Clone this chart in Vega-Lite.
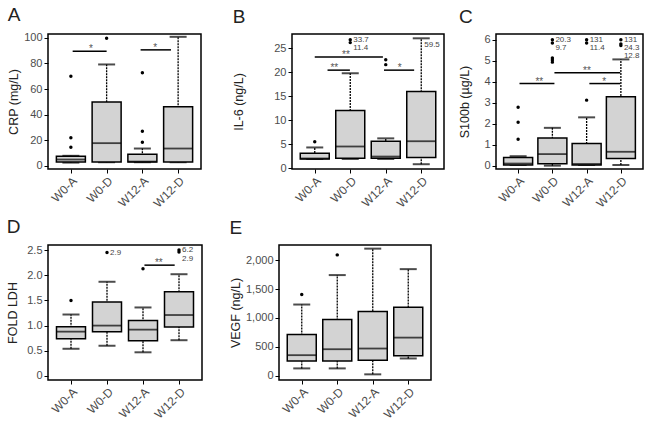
{
  "$schema": "https://vega.github.io/schema/vega-lite/v6.json",
  "background": "white",
  "padding": {"left": 5, "top": 5, "right": 5, "bottom": 5},
  "datasets": {
    "box": [
      {"p": "A", "g": 1, "lo": 2.5, "q1": 3, "med": 4.9, "q3": 7.5, "hi": 7.8},
      {"p": "A", "g": 2, "lo": 2.8, "q1": 3, "med": 17.7, "q3": 49.9, "hi": 79.2},
      {"p": "A", "g": 3, "lo": 2.8, "q1": 3, "med": 3.3, "q3": 9.1, "hi": 13.5},
      {"p": "A", "g": 4, "lo": 2.8, "q1": 3, "med": 13.5, "q3": 46.2, "hi": 100.8},
      {"p": "B", "g": 1, "lo": 1.9, "q1": 1.9, "med": 2.0, "q3": 3.1, "hi": 4.3},
      {"p": "B", "g": 2, "lo": 1.9, "q1": 2.07, "med": 4.5, "q3": 12.0, "hi": 19.8},
      {"p": "B", "g": 3, "lo": 1.9, "q1": 2.07, "med": 2.4, "q3": 5.6, "hi": 6.2},
      {"p": "B", "g": 4, "lo": 0.8, "q1": 2.2, "med": 5.6, "q3": 16.0, "hi": 27.1},
      {"p": "C", "g": 1, "lo": 0.03, "q1": 0.03, "med": 0.1, "q3": 0.39, "hi": 0.45},
      {"p": "C", "g": 2, "lo": 0.0, "q1": 0.09, "med": 0.55, "q3": 1.32, "hi": 1.8},
      {"p": "C", "g": 3, "lo": 0.03, "q1": 0.03, "med": 0.08, "q3": 1.05, "hi": 2.3},
      {"p": "C", "g": 4, "lo": 0.03, "q1": 0.34, "med": 0.66, "q3": 3.28, "hi": 5.06},
      {"p": "D", "g": 1, "lo": 0.54, "q1": 0.74, "med": 0.88, "q3": 0.975, "hi": 1.22},
      {"p": "D", "g": 2, "lo": 0.6, "q1": 0.88, "med": 1.0, "q3": 1.47, "hi": 1.87},
      {"p": "D", "g": 3, "lo": 0.47, "q1": 0.7, "med": 0.92, "q3": 1.1, "hi": 1.36},
      {"p": "D", "g": 4, "lo": 0.71, "q1": 0.97, "med": 1.21, "q3": 1.67, "hi": 2.02},
      {"p": "E", "g": 1, "lo": 126, "q1": 252, "med": 355, "q3": 711, "hi": 1232},
      {"p": "E", "g": 2, "lo": 126, "q1": 252, "med": 458, "q3": 974, "hi": 1742},
      {"p": "E", "g": 3, "lo": 23, "q1": 269, "med": 470, "q3": 1112, "hi": 2200},
      {"p": "E", "g": 4, "lo": 298, "q1": 344, "med": 659, "q3": 1186, "hi": 1845}
    ],
    "out": [
      {"p": "A", "g": 1, "v": 70}, {"p": "A", "g": 1, "v": 22}, {"p": "A", "g": 1, "v": 14.5},
      {"p": "A", "g": 2, "v": 99.7},
      {"p": "A", "g": 3, "v": 72.7}, {"p": "A", "g": 3, "v": 27}, {"p": "A", "g": 3, "v": 18.4},
      {"p": "B", "g": 1, "v": 5.5},
      {"p": "B", "g": 2, "v": 26.8}, {"p": "B", "g": 2, "v": 26.2},
      {"p": "B", "g": 3, "v": 22.6}, {"p": "B", "g": 3, "v": 21.6},
      {"p": "C", "g": 1, "v": 2.78}, {"p": "C", "g": 1, "v": 2.07}, {"p": "C", "g": 1, "v": 1.26},
      {"p": "C", "g": 2, "v": 5.13}, {"p": "C", "g": 2, "v": 5.03}, {"p": "C", "g": 2, "v": 4.93}, {"p": "C", "g": 2, "v": 6.0}, {"p": "C", "g": 2, "v": 5.84},
      {"p": "C", "g": 3, "v": 3.12}, {"p": "C", "g": 3, "v": 6.0}, {"p": "C", "g": 3, "v": 5.84},
      {"p": "C", "g": 4, "v": 6.0}, {"p": "C", "g": 4, "v": 5.8}, {"p": "C", "g": 4, "v": 5.72},
      {"p": "D", "g": 1, "v": 1.5}, {"p": "D", "g": 2, "v": 2.45}, {"p": "D", "g": 3, "v": 2.13},
      {"p": "D", "g": 4, "v": 2.5}, {"p": "D", "g": 4, "v": 2.46},
      {"p": "E", "g": 1, "v": 1404}, {"p": "E", "g": 2, "v": 2092}
    ],
    "sig": [
      {"p": "A", "x1": 1.05, "x2": 2.0, "sx": 1.56, "y": 89.6, "s": "*"},
      {"p": "A", "x1": 2.95, "x2": 3.8, "sx": 3.36, "y": 90.6, "s": "*"},
      {"p": "B", "x1": 1.36, "x2": 1.99, "sx": 1.55, "y": 20.45, "s": "**"},
      {"p": "B", "x1": 1.0, "x2": 2.92, "sx": 1.88, "y": 23.2, "s": "**"},
      {"p": "B", "x1": 2.95, "x2": 3.8, "sx": 3.39, "y": 20.45, "s": "*"},
      {"p": "C", "x1": 1.04, "x2": 2.06, "sx": 1.62, "y": 3.91, "s": "**"},
      {"p": "C", "x1": 2.06, "x2": 3.98, "sx": 3.01, "y": 4.43, "s": "**"},
      {"p": "C", "x1": 3.08, "x2": 3.98, "sx": 3.51, "y": 3.91, "s": "*"},
      {"p": "D", "x1": 3.04, "x2": 3.88, "sx": 3.44, "y": 2.2, "s": "**"}
    ],
    "ann": [
      {"p": "B", "g": 2, "y": 26.7, "t": "33.7"},
      {"p": "B", "g": 2, "y": 25.0, "t": "11.4"},
      {"p": "B", "g": 4, "y": 25.6, "t": "59.5"},
      {"p": "C", "g": 2, "y": 5.98, "t": "20.3"},
      {"p": "C", "g": 2, "y": 5.6, "t": "9.7"},
      {"p": "C", "g": 3, "y": 5.98, "t": "131"},
      {"p": "C", "g": 3, "y": 5.6, "t": "11.4"},
      {"p": "C", "g": 4, "y": 5.98, "t": "131"},
      {"p": "C", "g": 4, "y": 5.6, "t": "24.3"},
      {"p": "C", "g": 4, "y": 5.21, "t": "12.8"},
      {"p": "D", "g": 2, "y": 2.44, "t": "2.9"},
      {"p": "D", "g": 4, "y": 2.5, "t": "6.2"},
      {"p": "D", "g": 4, "y": 2.33, "t": "2.9"}
    ]
  },
  "spacing": 7,
  "vconcat": [
    {
      "spacing": 30,
      "hconcat": [
        {
          "width": 153, "height": 135,
          "title": {"text": "A"},
          "layer": [
            {"data": {"name": "box"}, "transform": [{"filter": "datum.p==='A'"}],
             "mark": {"type": "rule", "strokeDash": [2, 1], "strokeWidth": 1.3, "color": "#000"},
             "encoding": {
               "x": {"field": "g", "type": "quantitative", "title": null, "scale": {"domain": [0.5, 4.5], "nice": false, "zero": false}, "axis": {"values": [1, 2, 3, 4], "labelExpr": "['','W0-A','W0-D','W12-A','W12-D'][datum.value]"}},
               "y": {"field": "lo", "type": "quantitative", "title": "CRP (mg/L)", "scale": {"domain": [-2.5, 103], "nice": false, "zero": false}, "axis": {"values": [0, 20, 40, 60, 80, 100], "titlePadding": 3}},
               "y2": {"field": "hi"}}},
            {"data": {"name": "box"}, "transform": [{"filter": "datum.p==='A'"}],
             "mark": {"type": "tick", "orient": "horizontal", "size": 17, "thickness": 2, "color": "#000"},
             "encoding": {
               "x": {"field": "g", "type": "quantitative", "title": null, "scale": {"domain": [0.5, 4.5], "nice": false, "zero": false}, "axis": {"values": [1, 2, 3, 4], "labelExpr": "['','W0-A','W0-D','W12-A','W12-D'][datum.value]"}},
               "y": {"field": "hi", "type": "quantitative", "title": "CRP (mg/L)", "scale": {"domain": [-2.5, 103], "nice": false, "zero": false}, "axis": {"values": [0, 20, 40, 60, 80, 100], "titlePadding": 3}}}},
            {"data": {"name": "box"}, "transform": [{"filter": "datum.p==='A'"}],
             "mark": {"type": "tick", "orient": "horizontal", "size": 17, "thickness": 2, "color": "#000"},
             "encoding": {
               "x": {"field": "g", "type": "quantitative", "title": null, "scale": {"domain": [0.5, 4.5], "nice": false, "zero": false}, "axis": {"values": [1, 2, 3, 4], "labelExpr": "['','W0-A','W0-D','W12-A','W12-D'][datum.value]"}},
               "y": {"field": "lo", "type": "quantitative", "title": "CRP (mg/L)", "scale": {"domain": [-2.5, 103], "nice": false, "zero": false}, "axis": {"values": [0, 20, 40, 60, 80, 100], "titlePadding": 3}}}},
            {"data": {"name": "box"}, "transform": [{"filter": "datum.p==='A'"}],
             "mark": {"type": "bar", "orient": "vertical", "size": 29, "fill": "#d3d3d3", "stroke": "#000", "strokeWidth": 1.5},
             "encoding": {
               "x": {"field": "g", "type": "quantitative", "title": null, "scale": {"domain": [0.5, 4.5], "nice": false, "zero": false}, "axis": {"values": [1, 2, 3, 4], "labelExpr": "['','W0-A','W0-D','W12-A','W12-D'][datum.value]"}},
               "y": {"field": "q1", "type": "quantitative", "title": "CRP (mg/L)", "scale": {"domain": [-2.5, 103], "nice": false, "zero": false}, "axis": {"values": [0, 20, 40, 60, 80, 100], "titlePadding": 3}},
               "y2": {"field": "q3"}}},
            {"data": {"name": "box"}, "transform": [{"filter": "datum.p==='A'"}],
             "mark": {"type": "tick", "orient": "horizontal", "size": 29, "thickness": 1.8, "color": "#000"},
             "encoding": {
               "x": {"field": "g", "type": "quantitative", "title": null, "scale": {"domain": [0.5, 4.5], "nice": false, "zero": false}, "axis": {"values": [1, 2, 3, 4], "labelExpr": "['','W0-A','W0-D','W12-A','W12-D'][datum.value]"}},
               "y": {"field": "med", "type": "quantitative", "title": "CRP (mg/L)", "scale": {"domain": [-2.5, 103], "nice": false, "zero": false}, "axis": {"values": [0, 20, 40, 60, 80, 100], "titlePadding": 3}}}},
            {"data": {"name": "out"}, "transform": [{"filter": "datum.p==='A'"}],
             "mark": {"type": "circle", "size": 12, "color": "#000", "opacity": 1},
             "encoding": {
               "x": {"field": "g", "type": "quantitative", "title": null, "scale": {"domain": [0.5, 4.5], "nice": false, "zero": false}, "axis": {"values": [1, 2, 3, 4], "labelExpr": "['','W0-A','W0-D','W12-A','W12-D'][datum.value]"}},
               "y": {"field": "v", "type": "quantitative", "title": "CRP (mg/L)", "scale": {"domain": [-2.5, 103], "nice": false, "zero": false}, "axis": {"values": [0, 20, 40, 60, 80, 100], "titlePadding": 3}}}},
            {"data": {"name": "sig"}, "transform": [{"filter": "datum.p==='A'"}],
             "mark": {"type": "rule", "strokeWidth": 1.5, "color": "#000"},
             "encoding": {
               "x": {"field": "x1", "type": "quantitative", "title": null, "scale": {"domain": [0.5, 4.5], "nice": false, "zero": false}, "axis": {"values": [1, 2, 3, 4], "labelExpr": "['','W0-A','W0-D','W12-A','W12-D'][datum.value]"}},
               "x2": {"field": "x2"},
               "y": {"field": "y", "type": "quantitative", "title": "CRP (mg/L)", "scale": {"domain": [-2.5, 103], "nice": false, "zero": false}, "axis": {"values": [0, 20, 40, 60, 80, 100], "titlePadding": 3}}}},
            {"data": {"name": "sig"}, "transform": [{"filter": "datum.p==='A'"}],
             "mark": {"type": "text", "fontSize": 10, "color": "#555", "baseline": "alphabetic", "dy": 1},
             "encoding": {
               "x": {"field": "sx", "type": "quantitative", "title": null, "scale": {"domain": [0.5, 4.5], "nice": false, "zero": false}, "axis": {"values": [1, 2, 3, 4], "labelExpr": "['','W0-A','W0-D','W12-A','W12-D'][datum.value]"}},
               "y": {"field": "y", "type": "quantitative", "title": "CRP (mg/L)", "scale": {"domain": [-2.5, 103], "nice": false, "zero": false}, "axis": {"values": [0, 20, 40, 60, 80, 100], "titlePadding": 3}},
               "text": {"field": "s"}}}
          ]
        },
        {
          "spacing": 13,
          "hconcat": [
            {
              "width": 152, "height": 135,
              "title": {"text": "B"},
              "layer": [
                {"data": {"name": "box"}, "transform": [{"filter": "datum.p==='B'"}],
                 "mark": {"type": "rule", "strokeDash": [2, 1], "strokeWidth": 1.3, "color": "#000"},
                 "encoding": {
                   "x": {"field": "g", "type": "quantitative", "title": null, "scale": {"domain": [0.5, 4.5], "nice": false, "zero": false}, "axis": {"values": [1, 2, 3, 4], "labelExpr": "['','W0-A','W0-D','W12-A','W12-D'][datum.value]"}},
                   "y": {"field": "lo", "type": "quantitative", "title": "IL-6 (ng/L)", "scale": {"domain": [-0.2, 28], "nice": false, "zero": false}, "axis": {"values": [0, 5, 10, 15, 20, 25], "titlePadding": 28}},
                   "y2": {"field": "hi"}}},
                {"data": {"name": "box"}, "transform": [{"filter": "datum.p==='B'"}],
                 "mark": {"type": "tick", "orient": "horizontal", "size": 17, "thickness": 2, "color": "#000"},
                 "encoding": {
                   "x": {"field": "g", "type": "quantitative", "title": null, "scale": {"domain": [0.5, 4.5], "nice": false, "zero": false}, "axis": {"values": [1, 2, 3, 4], "labelExpr": "['','W0-A','W0-D','W12-A','W12-D'][datum.value]"}},
                   "y": {"field": "hi", "type": "quantitative", "title": "IL-6 (ng/L)", "scale": {"domain": [-0.2, 28], "nice": false, "zero": false}, "axis": {"values": [0, 5, 10, 15, 20, 25], "titlePadding": 28}}}},
                {"data": {"name": "box"}, "transform": [{"filter": "datum.p==='B'"}],
                 "mark": {"type": "tick", "orient": "horizontal", "size": 17, "thickness": 2, "color": "#000"},
                 "encoding": {
                   "x": {"field": "g", "type": "quantitative", "title": null, "scale": {"domain": [0.5, 4.5], "nice": false, "zero": false}, "axis": {"values": [1, 2, 3, 4], "labelExpr": "['','W0-A','W0-D','W12-A','W12-D'][datum.value]"}},
                   "y": {"field": "lo", "type": "quantitative", "title": "IL-6 (ng/L)", "scale": {"domain": [-0.2, 28], "nice": false, "zero": false}, "axis": {"values": [0, 5, 10, 15, 20, 25], "titlePadding": 28}}}},
                {"data": {"name": "box"}, "transform": [{"filter": "datum.p==='B'"}],
                 "mark": {"type": "bar", "orient": "vertical", "size": 29, "fill": "#d3d3d3", "stroke": "#000", "strokeWidth": 1.5},
                 "encoding": {
                   "x": {"field": "g", "type": "quantitative", "title": null, "scale": {"domain": [0.5, 4.5], "nice": false, "zero": false}, "axis": {"values": [1, 2, 3, 4], "labelExpr": "['','W0-A','W0-D','W12-A','W12-D'][datum.value]"}},
                   "y": {"field": "q1", "type": "quantitative", "title": "IL-6 (ng/L)", "scale": {"domain": [-0.2, 28], "nice": false, "zero": false}, "axis": {"values": [0, 5, 10, 15, 20, 25], "titlePadding": 28}},
                   "y2": {"field": "q3"}}},
                {"data": {"name": "box"}, "transform": [{"filter": "datum.p==='B'"}],
                 "mark": {"type": "tick", "orient": "horizontal", "size": 29, "thickness": 1.8, "color": "#000"},
                 "encoding": {
                   "x": {"field": "g", "type": "quantitative", "title": null, "scale": {"domain": [0.5, 4.5], "nice": false, "zero": false}, "axis": {"values": [1, 2, 3, 4], "labelExpr": "['','W0-A','W0-D','W12-A','W12-D'][datum.value]"}},
                   "y": {"field": "med", "type": "quantitative", "title": "IL-6 (ng/L)", "scale": {"domain": [-0.2, 28], "nice": false, "zero": false}, "axis": {"values": [0, 5, 10, 15, 20, 25], "titlePadding": 28}}}},
                {"data": {"name": "out"}, "transform": [{"filter": "datum.p==='B'"}],
                 "mark": {"type": "circle", "size": 12, "color": "#000", "opacity": 1},
                 "encoding": {
                   "x": {"field": "g", "type": "quantitative", "title": null, "scale": {"domain": [0.5, 4.5], "nice": false, "zero": false}, "axis": {"values": [1, 2, 3, 4], "labelExpr": "['','W0-A','W0-D','W12-A','W12-D'][datum.value]"}},
                   "y": {"field": "v", "type": "quantitative", "title": "IL-6 (ng/L)", "scale": {"domain": [-0.2, 28], "nice": false, "zero": false}, "axis": {"values": [0, 5, 10, 15, 20, 25], "titlePadding": 28}}}},
                {"data": {"name": "sig"}, "transform": [{"filter": "datum.p==='B'"}],
                 "mark": {"type": "rule", "strokeWidth": 1.5, "color": "#000"},
                 "encoding": {
                   "x": {"field": "x1", "type": "quantitative", "title": null, "scale": {"domain": [0.5, 4.5], "nice": false, "zero": false}, "axis": {"values": [1, 2, 3, 4], "labelExpr": "['','W0-A','W0-D','W12-A','W12-D'][datum.value]"}},
                   "x2": {"field": "x2"},
                   "y": {"field": "y", "type": "quantitative", "title": "IL-6 (ng/L)", "scale": {"domain": [-0.2, 28], "nice": false, "zero": false}, "axis": {"values": [0, 5, 10, 15, 20, 25], "titlePadding": 28}}}},
                {"data": {"name": "sig"}, "transform": [{"filter": "datum.p==='B'"}],
                 "mark": {"type": "text", "fontSize": 10, "color": "#555", "baseline": "alphabetic", "dy": 1},
                 "encoding": {
                   "x": {"field": "sx", "type": "quantitative", "title": null, "scale": {"domain": [0.5, 4.5], "nice": false, "zero": false}, "axis": {"values": [1, 2, 3, 4], "labelExpr": "['','W0-A','W0-D','W12-A','W12-D'][datum.value]"}},
                   "y": {"field": "y", "type": "quantitative", "title": "IL-6 (ng/L)", "scale": {"domain": [-0.2, 28], "nice": false, "zero": false}, "axis": {"values": [0, 5, 10, 15, 20, 25], "titlePadding": 28}},
                   "text": {"field": "s"}}},
                {"data": {"name": "ann"}, "transform": [{"filter": "datum.p==='B'"}],
                 "mark": {"type": "text", "fontSize": 8, "color": "#444", "align": "left", "baseline": "middle", "dx": 3},
                 "encoding": {
                   "x": {"field": "g", "type": "quantitative", "title": null, "scale": {"domain": [0.5, 4.5], "nice": false, "zero": false}, "axis": {"values": [1, 2, 3, 4], "labelExpr": "['','W0-A','W0-D','W12-A','W12-D'][datum.value]"}},
                   "y": {"field": "y", "type": "quantitative", "title": "IL-6 (ng/L)", "scale": {"domain": [-0.2, 28], "nice": false, "zero": false}, "axis": {"values": [0, 5, 10, 15, 20, 25], "titlePadding": 28}},
                   "text": {"field": "t"}}}
              ]
            },
            {
              "width": 147, "height": 135,
              "title": {"text": "C"},
              "layer": [
                {"data": {"name": "box"}, "transform": [{"filter": "datum.p==='C'"}],
                 "mark": {"type": "rule", "strokeDash": [2, 1], "strokeWidth": 1.3, "color": "#000"},
                 "encoding": {
                   "x": {"field": "g", "type": "quantitative", "title": null, "scale": {"domain": [0.5, 4.5], "nice": false, "zero": false}, "axis": {"values": [1, 2, 3, 4], "labelExpr": "['','W0-A','W0-D','W12-A','W12-D'][datum.value]"}},
                   "y": {"field": "lo", "type": "quantitative", "title": "S100b (µg/L)", "scale": {"domain": [-0.16, 6.27], "nice": false, "zero": false}, "axis": {"values": [0, 1, 2, 3, 4, 5, 6], "titlePadding": 12}},
                   "y2": {"field": "hi"}}},
                {"data": {"name": "box"}, "transform": [{"filter": "datum.p==='C'"}],
                 "mark": {"type": "tick", "orient": "horizontal", "size": 17, "thickness": 2, "color": "#000"},
                 "encoding": {
                   "x": {"field": "g", "type": "quantitative", "title": null, "scale": {"domain": [0.5, 4.5], "nice": false, "zero": false}, "axis": {"values": [1, 2, 3, 4], "labelExpr": "['','W0-A','W0-D','W12-A','W12-D'][datum.value]"}},
                   "y": {"field": "hi", "type": "quantitative", "title": "S100b (µg/L)", "scale": {"domain": [-0.16, 6.27], "nice": false, "zero": false}, "axis": {"values": [0, 1, 2, 3, 4, 5, 6], "titlePadding": 12}}}},
                {"data": {"name": "box"}, "transform": [{"filter": "datum.p==='C'"}],
                 "mark": {"type": "tick", "orient": "horizontal", "size": 17, "thickness": 2, "color": "#000"},
                 "encoding": {
                   "x": {"field": "g", "type": "quantitative", "title": null, "scale": {"domain": [0.5, 4.5], "nice": false, "zero": false}, "axis": {"values": [1, 2, 3, 4], "labelExpr": "['','W0-A','W0-D','W12-A','W12-D'][datum.value]"}},
                   "y": {"field": "lo", "type": "quantitative", "title": "S100b (µg/L)", "scale": {"domain": [-0.16, 6.27], "nice": false, "zero": false}, "axis": {"values": [0, 1, 2, 3, 4, 5, 6], "titlePadding": 12}}}},
                {"data": {"name": "box"}, "transform": [{"filter": "datum.p==='C'"}],
                 "mark": {"type": "bar", "orient": "vertical", "size": 29, "fill": "#d3d3d3", "stroke": "#000", "strokeWidth": 1.5},
                 "encoding": {
                   "x": {"field": "g", "type": "quantitative", "title": null, "scale": {"domain": [0.5, 4.5], "nice": false, "zero": false}, "axis": {"values": [1, 2, 3, 4], "labelExpr": "['','W0-A','W0-D','W12-A','W12-D'][datum.value]"}},
                   "y": {"field": "q1", "type": "quantitative", "title": "S100b (µg/L)", "scale": {"domain": [-0.16, 6.27], "nice": false, "zero": false}, "axis": {"values": [0, 1, 2, 3, 4, 5, 6], "titlePadding": 12}},
                   "y2": {"field": "q3"}}},
                {"data": {"name": "box"}, "transform": [{"filter": "datum.p==='C'"}],
                 "mark": {"type": "tick", "orient": "horizontal", "size": 29, "thickness": 1.8, "color": "#000"},
                 "encoding": {
                   "x": {"field": "g", "type": "quantitative", "title": null, "scale": {"domain": [0.5, 4.5], "nice": false, "zero": false}, "axis": {"values": [1, 2, 3, 4], "labelExpr": "['','W0-A','W0-D','W12-A','W12-D'][datum.value]"}},
                   "y": {"field": "med", "type": "quantitative", "title": "S100b (µg/L)", "scale": {"domain": [-0.16, 6.27], "nice": false, "zero": false}, "axis": {"values": [0, 1, 2, 3, 4, 5, 6], "titlePadding": 12}}}},
                {"data": {"name": "out"}, "transform": [{"filter": "datum.p==='C'"}],
                 "mark": {"type": "circle", "size": 12, "color": "#000", "opacity": 1},
                 "encoding": {
                   "x": {"field": "g", "type": "quantitative", "title": null, "scale": {"domain": [0.5, 4.5], "nice": false, "zero": false}, "axis": {"values": [1, 2, 3, 4], "labelExpr": "['','W0-A','W0-D','W12-A','W12-D'][datum.value]"}},
                   "y": {"field": "v", "type": "quantitative", "title": "S100b (µg/L)", "scale": {"domain": [-0.16, 6.27], "nice": false, "zero": false}, "axis": {"values": [0, 1, 2, 3, 4, 5, 6], "titlePadding": 12}}}},
                {"data": {"name": "sig"}, "transform": [{"filter": "datum.p==='C'"}],
                 "mark": {"type": "rule", "strokeWidth": 1.5, "color": "#000"},
                 "encoding": {
                   "x": {"field": "x1", "type": "quantitative", "title": null, "scale": {"domain": [0.5, 4.5], "nice": false, "zero": false}, "axis": {"values": [1, 2, 3, 4], "labelExpr": "['','W0-A','W0-D','W12-A','W12-D'][datum.value]"}},
                   "x2": {"field": "x2"},
                   "y": {"field": "y", "type": "quantitative", "title": "S100b (µg/L)", "scale": {"domain": [-0.16, 6.27], "nice": false, "zero": false}, "axis": {"values": [0, 1, 2, 3, 4, 5, 6], "titlePadding": 12}}}},
                {"data": {"name": "sig"}, "transform": [{"filter": "datum.p==='C'"}],
                 "mark": {"type": "text", "fontSize": 10, "color": "#555", "baseline": "alphabetic", "dy": 1},
                 "encoding": {
                   "x": {"field": "sx", "type": "quantitative", "title": null, "scale": {"domain": [0.5, 4.5], "nice": false, "zero": false}, "axis": {"values": [1, 2, 3, 4], "labelExpr": "['','W0-A','W0-D','W12-A','W12-D'][datum.value]"}},
                   "y": {"field": "y", "type": "quantitative", "title": "S100b (µg/L)", "scale": {"domain": [-0.16, 6.27], "nice": false, "zero": false}, "axis": {"values": [0, 1, 2, 3, 4, 5, 6], "titlePadding": 12}},
                   "text": {"field": "s"}}},
                {"data": {"name": "ann"}, "transform": [{"filter": "datum.p==='C'"}],
                 "mark": {"type": "text", "fontSize": 8, "color": "#444", "align": "left", "baseline": "middle", "dx": 3},
                 "encoding": {
                   "x": {"field": "g", "type": "quantitative", "title": null, "scale": {"domain": [0.5, 4.5], "nice": false, "zero": false}, "axis": {"values": [1, 2, 3, 4], "labelExpr": "['','W0-A','W0-D','W12-A','W12-D'][datum.value]"}},
                   "y": {"field": "y", "type": "quantitative", "title": "S100b (µg/L)", "scale": {"domain": [-0.16, 6.27], "nice": false, "zero": false}, "axis": {"values": [0, 1, 2, 3, 4, 5, 6], "titlePadding": 12}},
                   "text": {"field": "t"}}}
              ]
            }
          ]
        }
      ]
    },
    {
      "spacing": 25,
      "hconcat": [
        {
          "width": 154, "height": 135,
          "title": {"text": "D"},
          "layer": [
            {"data": {"name": "box"}, "transform": [{"filter": "datum.p==='D'"}],
             "mark": {"type": "rule", "strokeDash": [2, 1], "strokeWidth": 1.3, "color": "#000"},
             "encoding": {
               "x": {"field": "g", "type": "quantitative", "title": null, "scale": {"domain": [0.5, 4.5], "nice": false, "zero": false}, "axis": {"values": [1, 2, 3, 4], "labelExpr": "['','W0-A','W0-D','W12-A','W12-D'][datum.value]"}},
               "y": {"field": "lo", "type": "quantitative", "title": "FOLD LDH", "scale": {"domain": [-0.08, 2.6], "nice": false, "zero": false}, "axis": {"values": [0, 0.5, 1, 1.5, 2, 2.5], "labelExpr": "datum.value === 0 ? '0' : format(datum.value, '.1f')", "titlePadding": 7}},
               "y2": {"field": "hi"}}},
            {"data": {"name": "box"}, "transform": [{"filter": "datum.p==='D'"}],
             "mark": {"type": "tick", "orient": "horizontal", "size": 17, "thickness": 2, "color": "#000"},
             "encoding": {
               "x": {"field": "g", "type": "quantitative", "title": null, "scale": {"domain": [0.5, 4.5], "nice": false, "zero": false}, "axis": {"values": [1, 2, 3, 4], "labelExpr": "['','W0-A','W0-D','W12-A','W12-D'][datum.value]"}},
               "y": {"field": "hi", "type": "quantitative", "title": "FOLD LDH", "scale": {"domain": [-0.08, 2.6], "nice": false, "zero": false}, "axis": {"values": [0, 0.5, 1, 1.5, 2, 2.5], "labelExpr": "datum.value === 0 ? '0' : format(datum.value, '.1f')", "titlePadding": 7}}}},
            {"data": {"name": "box"}, "transform": [{"filter": "datum.p==='D'"}],
             "mark": {"type": "tick", "orient": "horizontal", "size": 17, "thickness": 2, "color": "#000"},
             "encoding": {
               "x": {"field": "g", "type": "quantitative", "title": null, "scale": {"domain": [0.5, 4.5], "nice": false, "zero": false}, "axis": {"values": [1, 2, 3, 4], "labelExpr": "['','W0-A','W0-D','W12-A','W12-D'][datum.value]"}},
               "y": {"field": "lo", "type": "quantitative", "title": "FOLD LDH", "scale": {"domain": [-0.08, 2.6], "nice": false, "zero": false}, "axis": {"values": [0, 0.5, 1, 1.5, 2, 2.5], "labelExpr": "datum.value === 0 ? '0' : format(datum.value, '.1f')", "titlePadding": 7}}}},
            {"data": {"name": "box"}, "transform": [{"filter": "datum.p==='D'"}],
             "mark": {"type": "bar", "orient": "vertical", "size": 29, "fill": "#d3d3d3", "stroke": "#000", "strokeWidth": 1.5},
             "encoding": {
               "x": {"field": "g", "type": "quantitative", "title": null, "scale": {"domain": [0.5, 4.5], "nice": false, "zero": false}, "axis": {"values": [1, 2, 3, 4], "labelExpr": "['','W0-A','W0-D','W12-A','W12-D'][datum.value]"}},
               "y": {"field": "q1", "type": "quantitative", "title": "FOLD LDH", "scale": {"domain": [-0.08, 2.6], "nice": false, "zero": false}, "axis": {"values": [0, 0.5, 1, 1.5, 2, 2.5], "labelExpr": "datum.value === 0 ? '0' : format(datum.value, '.1f')", "titlePadding": 7}},
               "y2": {"field": "q3"}}},
            {"data": {"name": "box"}, "transform": [{"filter": "datum.p==='D'"}],
             "mark": {"type": "tick", "orient": "horizontal", "size": 29, "thickness": 1.8, "color": "#000"},
             "encoding": {
               "x": {"field": "g", "type": "quantitative", "title": null, "scale": {"domain": [0.5, 4.5], "nice": false, "zero": false}, "axis": {"values": [1, 2, 3, 4], "labelExpr": "['','W0-A','W0-D','W12-A','W12-D'][datum.value]"}},
               "y": {"field": "med", "type": "quantitative", "title": "FOLD LDH", "scale": {"domain": [-0.08, 2.6], "nice": false, "zero": false}, "axis": {"values": [0, 0.5, 1, 1.5, 2, 2.5], "labelExpr": "datum.value === 0 ? '0' : format(datum.value, '.1f')", "titlePadding": 7}}}},
            {"data": {"name": "out"}, "transform": [{"filter": "datum.p==='D'"}],
             "mark": {"type": "circle", "size": 12, "color": "#000", "opacity": 1},
             "encoding": {
               "x": {"field": "g", "type": "quantitative", "title": null, "scale": {"domain": [0.5, 4.5], "nice": false, "zero": false}, "axis": {"values": [1, 2, 3, 4], "labelExpr": "['','W0-A','W0-D','W12-A','W12-D'][datum.value]"}},
               "y": {"field": "v", "type": "quantitative", "title": "FOLD LDH", "scale": {"domain": [-0.08, 2.6], "nice": false, "zero": false}, "axis": {"values": [0, 0.5, 1, 1.5, 2, 2.5], "labelExpr": "datum.value === 0 ? '0' : format(datum.value, '.1f')", "titlePadding": 7}}}},
            {"data": {"name": "sig"}, "transform": [{"filter": "datum.p==='D'"}],
             "mark": {"type": "rule", "strokeWidth": 1.5, "color": "#000"},
             "encoding": {
               "x": {"field": "x1", "type": "quantitative", "title": null, "scale": {"domain": [0.5, 4.5], "nice": false, "zero": false}, "axis": {"values": [1, 2, 3, 4], "labelExpr": "['','W0-A','W0-D','W12-A','W12-D'][datum.value]"}},
               "x2": {"field": "x2"},
               "y": {"field": "y", "type": "quantitative", "title": "FOLD LDH", "scale": {"domain": [-0.08, 2.6], "nice": false, "zero": false}, "axis": {"values": [0, 0.5, 1, 1.5, 2, 2.5], "labelExpr": "datum.value === 0 ? '0' : format(datum.value, '.1f')", "titlePadding": 7}}}},
            {"data": {"name": "sig"}, "transform": [{"filter": "datum.p==='D'"}],
             "mark": {"type": "text", "fontSize": 10, "color": "#555", "baseline": "alphabetic", "dy": 1},
             "encoding": {
               "x": {"field": "sx", "type": "quantitative", "title": null, "scale": {"domain": [0.5, 4.5], "nice": false, "zero": false}, "axis": {"values": [1, 2, 3, 4], "labelExpr": "['','W0-A','W0-D','W12-A','W12-D'][datum.value]"}},
               "y": {"field": "y", "type": "quantitative", "title": "FOLD LDH", "scale": {"domain": [-0.08, 2.6], "nice": false, "zero": false}, "axis": {"values": [0, 0.5, 1, 1.5, 2, 2.5], "labelExpr": "datum.value === 0 ? '0' : format(datum.value, '.1f')", "titlePadding": 7}},
               "text": {"field": "s"}}},
            {"data": {"name": "ann"}, "transform": [{"filter": "datum.p==='D'"}],
             "mark": {"type": "text", "fontSize": 8, "color": "#444", "align": "left", "baseline": "middle", "dx": 3},
             "encoding": {
               "x": {"field": "g", "type": "quantitative", "title": null, "scale": {"domain": [0.5, 4.5], "nice": false, "zero": false}, "axis": {"values": [1, 2, 3, 4], "labelExpr": "['','W0-A','W0-D','W12-A','W12-D'][datum.value]"}},
               "y": {"field": "y", "type": "quantitative", "title": "FOLD LDH", "scale": {"domain": [-0.08, 2.6], "nice": false, "zero": false}, "axis": {"values": [0, 0.5, 1, 1.5, 2, 2.5], "labelExpr": "datum.value === 0 ? '0' : format(datum.value, '.1f')", "titlePadding": 7}},
               "text": {"field": "t"}}}
          ]
        },
        {
          "width": 152, "height": 135,
          "title": {"text": "E"},
          "layer": [
            {"data": {"name": "box"}, "transform": [{"filter": "datum.p==='E'"}],
             "mark": {"type": "rule", "strokeDash": [2, 1], "strokeWidth": 1.3, "color": "#000"},
             "encoding": {
               "x": {"field": "g", "type": "quantitative", "title": null, "scale": {"domain": [0.5, 4.5], "nice": false, "zero": false}, "axis": {"values": [1, 2, 3, 4], "labelExpr": "['','W0-A','W0-D','W12-A','W12-D'][datum.value]"}},
               "y": {"field": "lo", "type": "quantitative", "title": "VEGF (ng/L)", "scale": {"domain": [-75, 2263], "nice": false, "zero": false}, "axis": {"values": [0, 500, 1000, 1500, 2000], "labelExpr": "format(datum.value, ',')", "titlePadding": 3}},
               "y2": {"field": "hi"}}},
            {"data": {"name": "box"}, "transform": [{"filter": "datum.p==='E'"}],
             "mark": {"type": "tick", "orient": "horizontal", "size": 17, "thickness": 2, "color": "#000"},
             "encoding": {
               "x": {"field": "g", "type": "quantitative", "title": null, "scale": {"domain": [0.5, 4.5], "nice": false, "zero": false}, "axis": {"values": [1, 2, 3, 4], "labelExpr": "['','W0-A','W0-D','W12-A','W12-D'][datum.value]"}},
               "y": {"field": "hi", "type": "quantitative", "title": "VEGF (ng/L)", "scale": {"domain": [-75, 2263], "nice": false, "zero": false}, "axis": {"values": [0, 500, 1000, 1500, 2000], "labelExpr": "format(datum.value, ',')", "titlePadding": 3}}}},
            {"data": {"name": "box"}, "transform": [{"filter": "datum.p==='E'"}],
             "mark": {"type": "tick", "orient": "horizontal", "size": 17, "thickness": 2, "color": "#000"},
             "encoding": {
               "x": {"field": "g", "type": "quantitative", "title": null, "scale": {"domain": [0.5, 4.5], "nice": false, "zero": false}, "axis": {"values": [1, 2, 3, 4], "labelExpr": "['','W0-A','W0-D','W12-A','W12-D'][datum.value]"}},
               "y": {"field": "lo", "type": "quantitative", "title": "VEGF (ng/L)", "scale": {"domain": [-75, 2263], "nice": false, "zero": false}, "axis": {"values": [0, 500, 1000, 1500, 2000], "labelExpr": "format(datum.value, ',')", "titlePadding": 3}}}},
            {"data": {"name": "box"}, "transform": [{"filter": "datum.p==='E'"}],
             "mark": {"type": "bar", "orient": "vertical", "size": 29, "fill": "#d3d3d3", "stroke": "#000", "strokeWidth": 1.5},
             "encoding": {
               "x": {"field": "g", "type": "quantitative", "title": null, "scale": {"domain": [0.5, 4.5], "nice": false, "zero": false}, "axis": {"values": [1, 2, 3, 4], "labelExpr": "['','W0-A','W0-D','W12-A','W12-D'][datum.value]"}},
               "y": {"field": "q1", "type": "quantitative", "title": "VEGF (ng/L)", "scale": {"domain": [-75, 2263], "nice": false, "zero": false}, "axis": {"values": [0, 500, 1000, 1500, 2000], "labelExpr": "format(datum.value, ',')", "titlePadding": 3}},
               "y2": {"field": "q3"}}},
            {"data": {"name": "box"}, "transform": [{"filter": "datum.p==='E'"}],
             "mark": {"type": "tick", "orient": "horizontal", "size": 29, "thickness": 1.8, "color": "#000"},
             "encoding": {
               "x": {"field": "g", "type": "quantitative", "title": null, "scale": {"domain": [0.5, 4.5], "nice": false, "zero": false}, "axis": {"values": [1, 2, 3, 4], "labelExpr": "['','W0-A','W0-D','W12-A','W12-D'][datum.value]"}},
               "y": {"field": "med", "type": "quantitative", "title": "VEGF (ng/L)", "scale": {"domain": [-75, 2263], "nice": false, "zero": false}, "axis": {"values": [0, 500, 1000, 1500, 2000], "labelExpr": "format(datum.value, ',')", "titlePadding": 3}}}},
            {"data": {"name": "out"}, "transform": [{"filter": "datum.p==='E'"}],
             "mark": {"type": "circle", "size": 12, "color": "#000", "opacity": 1},
             "encoding": {
               "x": {"field": "g", "type": "quantitative", "title": null, "scale": {"domain": [0.5, 4.5], "nice": false, "zero": false}, "axis": {"values": [1, 2, 3, 4], "labelExpr": "['','W0-A','W0-D','W12-A','W12-D'][datum.value]"}},
               "y": {"field": "v", "type": "quantitative", "title": "VEGF (ng/L)", "scale": {"domain": [-75, 2263], "nice": false, "zero": false}, "axis": {"values": [0, 500, 1000, 1500, 2000], "labelExpr": "format(datum.value, ',')", "titlePadding": 3}}}}
          ]
        }
      ]
    }
  ],
  "config": {
    "font": "Liberation Sans",
    "view": {"stroke": "#000", "strokeWidth": 1.5},
    "axis": {"domain": false, "grid": false, "tickColor": "#000", "tickSize": 4, "tickWidth": 1, "labelFontSize": 11, "labelColor": "#4d4d4d", "titleFontSize": 12.5, "titleFontWeight": "normal", "titleColor": "#222", "labelPadding": 2, "labelOverlap": false},
    "axisX": {"labelAngle": -45, "labelAlign": "right", "labelBaseline": "top", "labelFontSize": 12},
    "title": {"anchor": "start", "frame": "bounds", "fontSize": 19, "fontWeight": "normal", "color": "#222", "offset": 7, "baseline": "alphabetic"}
  }
}
